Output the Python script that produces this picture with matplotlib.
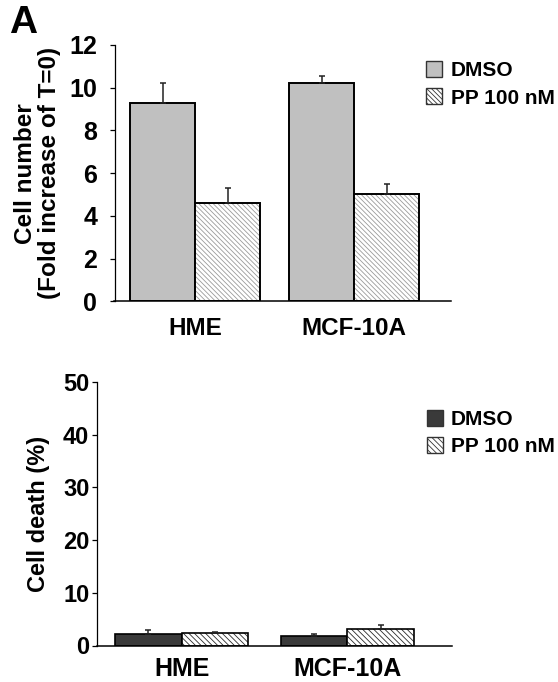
import matplotlib
matplotlib.use("Agg")
import matplotlib.pyplot as plt
import numpy as np

plt.rcParams['font.family'] = ['Liberation Sans', 'DejaVu Sans']
plt.rcParams['font.weight'] = 'bold'

categories = ["HME", "MCF-10A"]
series = ["DMSO", "PP 100 nM"]

# Top panel: cell number (fold increase of T=0)
growth_dmso = [9.27, 10.2]
growth_dmso_err = [0.93, 0.35]
growth_pp = [4.6, 5.02]
growth_pp_err = [0.69, 0.46]
growth_ticks = [0, 2, 4, 6, 8, 10, 12]

# Bottom panel: cell death (%)
death_dmso = [2.25, 1.8]
death_dmso_err = [0.65, 0.4]
death_pp = [2.3, 3.1]
death_pp_err = [0.3, 0.75]
death_ticks = [0, 10, 20, 30, 40, 50]

W, H = 558, 682
fig = plt.figure(figsize=(W / 100, H / 100), dpi=100)

def ax_rect(l, r, t, b):
    return [l / W, 1 - b / H, (r - l) / W, (b - t) / H]

x = np.arange(len(categories))
ekw = dict(ecolor='#222222', elinewidth=1.1, capsize=2.5, capthick=1.1)

# ---------- Top panel ----------
ax1 = fig.add_axes(ax_rect(114.5, 451, 45, 301.3))
bw = 0.409
plt.rcParams['hatch.linewidth'] = 0.6
b1 = ax1.bar(x - bw / 2, growth_dmso, bw, color='#c0c0c0', edgecolor='black', linewidth=1.4,
             yerr=[np.zeros(2), growth_dmso_err], error_kw=ekw)
b2 = ax1.bar(x + bw / 2, growth_pp, bw, color='white', edgecolor='#9a9a9a', linewidth=0,
             hatch='\\\\\\\\\\\\\\', yerr=[np.zeros(2), growth_pp_err], error_kw=ekw)
ax1.bar(x + bw / 2, growth_pp, bw, color='none', edgecolor='black', linewidth=1.4)
ax1.set_xlim(-0.509, 1.61)
ax1.set_ylim(0, 12)
ax1.set_yticks(growth_ticks)
ax1.set_xticks(x)
ax1.set_xticklabels(categories)
for s in ['top', 'right']:
    ax1.spines[s].set_visible(False)
ax1.spines['left'].set_linewidth(0.9)
ax1.spines['bottom'].set_linewidth(1.1)
ax1.tick_params(axis='y', length=3.5, width=0.9, pad=9, labelsize=18)
ax1.tick_params(axis='x', length=0, pad=11, labelsize=17.5)
ax1.set_ylabel("Cell number\n(Fold increase of T=0)", fontsize=17.5, fontweight='bold', labelpad=6,
               linespacing=1.05)
leg1 = ax1.legend([b1, b2], series, loc='upper left', bbox_to_anchor=(426 / W, 1 - 61 / H),
                  bbox_transform=fig.transFigure, frameon=False, fontsize=15,
                  handlelength=0.78, handleheight=0.78, handletextpad=0.4, labelspacing=0.4,
                  borderaxespad=0, borderpad=0)
for p in leg1.get_patches():
    p.set_edgecolor('#333333')
    p.set_linewidth(1.0)

fig.text(9 / W, 1 - 33 / H, "A", fontsize=28, fontweight='bold', ha='left', va='baseline')

# ---------- Bottom panel ----------
ax2 = fig.add_axes(ax_rect(97, 452, 382, 645.5))
bw2 = 0.40
c1 = ax2.bar(x - bw2 / 2, death_dmso, bw2, color='#3a3a3a', edgecolor='black', linewidth=1.2,
             yerr=[np.zeros(2), death_dmso_err], error_kw=ekw)
c2 = ax2.bar(x + bw2 / 2, death_pp, bw2, color='white', edgecolor='#2a2a2a', linewidth=0,
             hatch='\\\\\\\\\\\\', yerr=[np.zeros(2), death_pp_err], error_kw=ekw)
ax2.bar(x + bw2 / 2, death_pp, bw2, color='none', edgecolor='black', linewidth=1.2)
ax2.set_xlim(-0.51, 1.63)
ax2.set_ylim(0, 50)
ax2.set_yticks(death_ticks)
ax2.set_xticks(x)
ax2.set_xticklabels(categories)
for s in ['top', 'right']:
    ax2.spines[s].set_visible(False)
ax2.spines['left'].set_linewidth(0.9)
ax2.spines['bottom'].set_linewidth(1.1)
ax2.tick_params(axis='y', length=3.5, width=0.9, pad=2, labelsize=17)
ax2.tick_params(axis='x', length=0, pad=8, labelsize=18)
ax2.set_ylabel("Cell death (%)", fontsize=17, fontweight='bold', labelpad=9)
leg2 = ax2.legend([c1, c2], series, loc='upper left', bbox_to_anchor=(427 / W, 1 - 410 / H),
                  bbox_transform=fig.transFigure, frameon=False, fontsize=15,
                  handlelength=0.78, handleheight=0.78, handletextpad=0.35, labelspacing=0.4,
                  borderaxespad=0, borderpad=0)
for p in leg2.get_patches():
    p.set_edgecolor('#333333')
    p.set_linewidth(1.0)

fig.savefig("out.png", dpi=100)
